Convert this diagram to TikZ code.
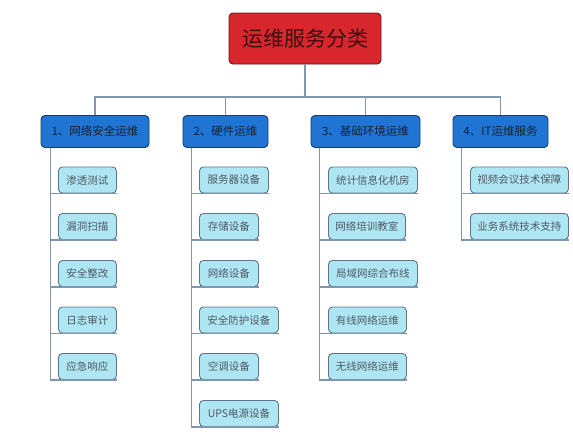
\documentclass[tikz,border=0pt]{standalone}
\usepackage{fontspec}
\setmainfont{Noto Sans CJK SC}
\definecolor{rootfill}{HTML}{D7262C}
\definecolor{rootdraw}{HTML}{6A1A1C}
\definecolor{roottext}{HTML}{3A1212}
\definecolor{lonefill}{HTML}{1F74D4}
\definecolor{lonedraw}{HTML}{1C3C6C}
\definecolor{lonetext}{HTML}{1A2232}
\definecolor{kidfill}{HTML}{AEE6F3}
\definecolor{kiddraw}{HTML}{5F7488}
\definecolor{kidtext}{HTML}{505A64}
\definecolor{conncol}{HTML}{8096AE}
\tikzset{
  rootbox/.style={draw=rootdraw, fill=rootfill, line width=0.9pt, rounded corners=4pt, text=roottext, font=\fontsize{21}{24}\selectfont, inner sep=0pt, minimum width=152pt, minimum height=51pt},
  lonebox/.style={draw=lonedraw, fill=lonefill, line width=0.9pt, rounded corners=4pt, text=lonetext, font=\fontsize{11.5}{13}\selectfont, inner sep=0pt, minimum height=32pt},
  kidbox/.style={draw=kiddraw, fill=kidfill, line width=0.9pt, rounded corners=4pt, text=kidtext, font=\fontsize{10.5}{12}\selectfont, inner sep=0pt, minimum height=26pt, anchor=west},
  conn/.style={draw=conncol, line width=1.4pt}
}
\begin{document}
\begin{tikzpicture}[x=1pt,y=1pt]
\useasboundingbox (0,0) rectangle (573,-439);
% root and bus
\node[rootbox] (root) at (305,-38.5) {运维服务分类};
\coordinate (bus) at (305,-97);
% level 1
\node[lonebox, minimum width=108pt] (L1) at (95,-131.5) {1、网络安全运维};
\node[lonebox, minimum width=85pt] (L2) at (225.5,-131.5) {2、硬件运维};
\node[lonebox, minimum width=109pt] (L3) at (365.5,-131.5) {3、基础环境运维};
\node[lonebox, minimum width=95pt] (L4) at (500.5,-131.5) {4、IT运维服务};
% level 2, column 1
\node[kidbox, minimum width=58pt] (a1) at (58,-180) {渗透测试};
\node[kidbox, minimum width=58pt] (a2) at (58,-226.5) {漏洞扫描};
\node[kidbox, minimum width=58pt] (a3) at (58,-273.5) {安全整改};
\node[kidbox, minimum width=58pt] (a4) at (58,-320) {日志审计};
\node[kidbox, minimum width=58pt] (a5) at (58,-366.5) {应急响应};
% column 2
\node[kidbox, minimum width=69pt] (b1) at (199,-180) {服务器设备};
\node[kidbox, minimum width=59pt] (b2) at (199,-226.5) {存储设备};
\node[kidbox, minimum width=59pt] (b3) at (199,-273.5) {网络设备};
\node[kidbox, minimum width=79pt] (b4) at (199,-320) {安全防护设备};
\node[kidbox, minimum width=59pt] (b5) at (199,-366.5) {空调设备};
\node[kidbox, minimum width=79pt] (b6) at (199,-413.5) {UPS电源设备};
% column 3
\node[kidbox, minimum width=89pt] (c1) at (328,-180) {统计信息化机房};
\node[kidbox, minimum width=77pt] (c2) at (328,-226.5) {网络培训教室};
\node[kidbox, minimum width=89pt] (c3) at (328,-273.5) {局域网综合布线};
\node[kidbox, minimum width=78pt] (c4) at (328,-320) {有线网络运维};
\node[kidbox, minimum width=78pt] (c5) at (328,-366.5) {无线网络运维};
% column 4
\node[kidbox, minimum width=98pt] (d1) at (470,-180) {视频会议技术保障};
\node[kidbox, minimum width=98pt] (d2) at (470,-226.5) {业务系统技术支持};
% connectors root -> level 1
\draw[conn] (root.south) -- (bus);
\draw[conn] (bus) -| (L1.north);
\draw[conn] (bus) -| (L2.north);
\draw[conn] (bus) -| (L3.north);
\draw[conn] (bus) -| (L4.north);
% connectors level 1 -> level 2
\foreach \k in {a1,a2,a3,a4,a5}{\draw[conn] ([xshift=10pt]L1.south west) |- (\k.south east);}
\foreach \k in {b1,b2,b3,b4,b5,b6}{\draw[conn] ([xshift=9pt]L2.south west) |- (\k.south east);}
\foreach \k in {c1,c2,c3,c4,c5}{\draw[conn] ([xshift=9pt]L3.south west) |- (\k.south east);}
\foreach \k in {d1,d2}{\draw[conn] ([xshift=9pt]L4.south west) |- (\k.south east);}
\end{tikzpicture}
\end{document}
